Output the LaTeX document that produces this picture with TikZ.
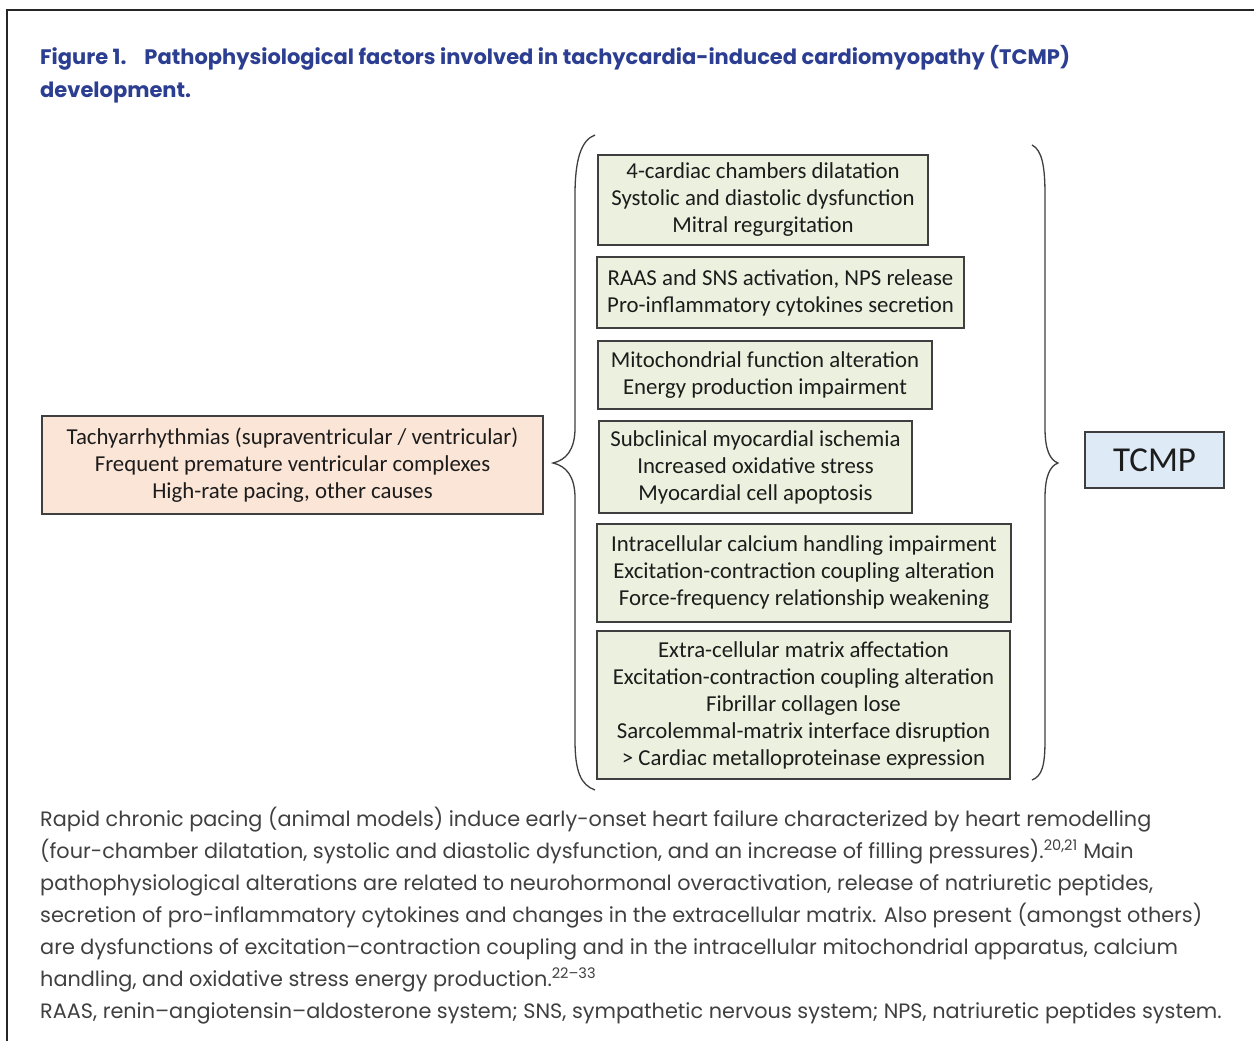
\documentclass[tikz,border=0pt]{standalone}
\usepackage{fontspec}
\newfontfamily\capfont{Poppins}
\newfontfamily\boxfont{Carlito}
\definecolor{factorfill}{HTML}{EBF1DE}
\definecolor{causefill}{HTML}{FBE5D6}
\definecolor{tcmpfill}{HTML}{DEEBF7}
\definecolor{boxline}{HTML}{3F3F3F}
\definecolor{boxtext}{HTML}{1C1C1C}
\definecolor{titleblue}{HTML}{2C3E91}
\definecolor{capgrey}{HTML}{404040}
\newcommand{\diagfont}{\boxfont\fontsize{22.8}{27}\selectfont}
\newcommand{\titlefont}{\capfont\bfseries\fontsize{21}{32}\selectfont}
\newcommand{\notefont}{\capfont\fontsize{20.8}{32}\selectfont}
\tikzset{
  factorbox/.style={rectangle, draw=boxline, line width=1.4pt, fill=factorfill,
    align=center, font=\diagfont, text=boxtext, inner sep=0pt},
  causebox/.style={factorbox, fill=causefill},
  tcmpbox/.style={factorbox, fill=tcmpfill, font=\boxfont\fontsize{35}{40}\selectfont},
  titleline/.style={anchor=base west, inner sep=0pt, font=\titlefont, text=titleblue},
  noteline/.style={anchor=base west, inner sep=0pt, font=\notefont, text=capgrey},
  brace/.style={draw=boxline, line width=1.3pt}
}
\begin{document}
\begin{tikzpicture}[x=1pt, y=-1pt]
  \useasboundingbox (0,0) rectangle (1254,1041);
  \fill[white] (0,0) rectangle (1254,1041);

  % Frame
  \draw[line width=2pt, color=black!85] (1254,10) -- (7,10) -- (7,1041);

  % Title
  \node (title1) at (40,65) [titleline] {Figure 1.\hspace{18pt}Pathophysiological factors involved in tachycardia-induced cardiomyopathy (TCMP)};
  \node (title2) at (40,97) [titleline] {development.};

  % Nodes
  \node (cause) at (292.5,465) [causebox, minimum width=501pt, minimum height=98pt]
    {Tachyarrhythmias (supraventricular / ventricular)\\Frequent premature ventricular complexes\\High-rate pacing, other causes};

  \node (remodel) at (763,200) [factorbox, minimum width=330pt, minimum height=90pt]
    {4-cardiac chambers dilatation\\Systolic and diastolic dysfunction\\Mitral regurgitation};
  \node (neuro) at (780.5,292.5) [factorbox, minimum width=367pt, minimum height=71pt]
    {RAAS and SNS activation, NPS release\\Pro-inflammatory cytokines secretion};
  \node (mito) at (765,375) [factorbox, minimum width=334pt, minimum height=68pt]
    {Mitochondrial function alteration\\Energy production impairment};
  \node (ischemia) at (755.5,467) [factorbox, minimum width=313pt, minimum height=92pt]
    {Subclinical myocardial ischemia\\Increased oxidative stress\\Myocardial cell apoptosis};
  \node (calcium) at (804,573) [factorbox, minimum width=414pt, minimum height=98pt]
    {Intracellular calcium handling impairment\\Excitation-contraction coupling alteration\\Force-frequency relationship weakening};
  \node (matrix) at (803.5,705) [factorbox, minimum width=413pt, minimum height=148pt]
    {Extra-cellular matrix affectation\\Excitation-contraction coupling alteration\\Fibrillar collagen lose\\Sarcolemmal-matrix interface disruption\\> Cardiac metalloproteinase expression};

  \node (tcmp) at (1154.5,460) [tcmpbox, minimum width=139pt, minimum height=56pt] {TCMP};

  % Braces
  \coordinate (ltip) at (553,463);
  \coordinate (rtip) at (1058,463);
  \draw[brace] (595,135) .. controls (581,140) and (575,160) .. (575,195) -- (575,428)
    .. controls (575,450) and (566,460) .. (ltip)
    .. controls (566,466) and (575,476) .. (575,498) -- (575,740)
    .. controls (575,772) and (581,785) .. (595,790);
  \draw[brace] (1032,145) .. controls (1042,150) and (1045,166) .. (1045,195) -- (1045,428)
    .. controls (1045,450) and (1050,460) .. (rtip)
    .. controls (1050,466) and (1045,476) .. (1045,498) -- (1045,740)
    .. controls (1045,766) and (1042,776) .. (1032,780);

  % Caption
  \node (cap1) at (40,826) [noteline] {Rapid chronic pacing (animal models) induce early-onset heart failure characterized by heart remodelling};
  \node (cap2) at (40,858) [noteline] {(four-chamber dilatation, systolic and diastolic dysfunction, and an increase of filling pressures).\textsuperscript{20,21} Main};
  \node (cap3) at (40,890) [noteline] {pathophysiological alterations are related to neurohormonal overactivation, release of natriuretic peptides,};
  \node (cap4) at (40,922) [noteline] {secretion of pro-inflammatory cytokines and changes in the extracellular matrix. Also present (amongst others)};
  \node (cap5) at (40,954) [noteline] {are dysfunctions of excitation–contraction coupling and in the intracellular mitochondrial apparatus, calcium};
  \node (cap6) at (40,986) [noteline] {handling, and oxidative stress energy production.\textsuperscript{22–33}};
  \node (cap7) at (40,1018) [noteline] {RAAS, renin–angiotensin–aldosterone system; SNS, sympathetic nervous system; NPS, natriuretic peptides system.};
\end{tikzpicture}
\end{document}
